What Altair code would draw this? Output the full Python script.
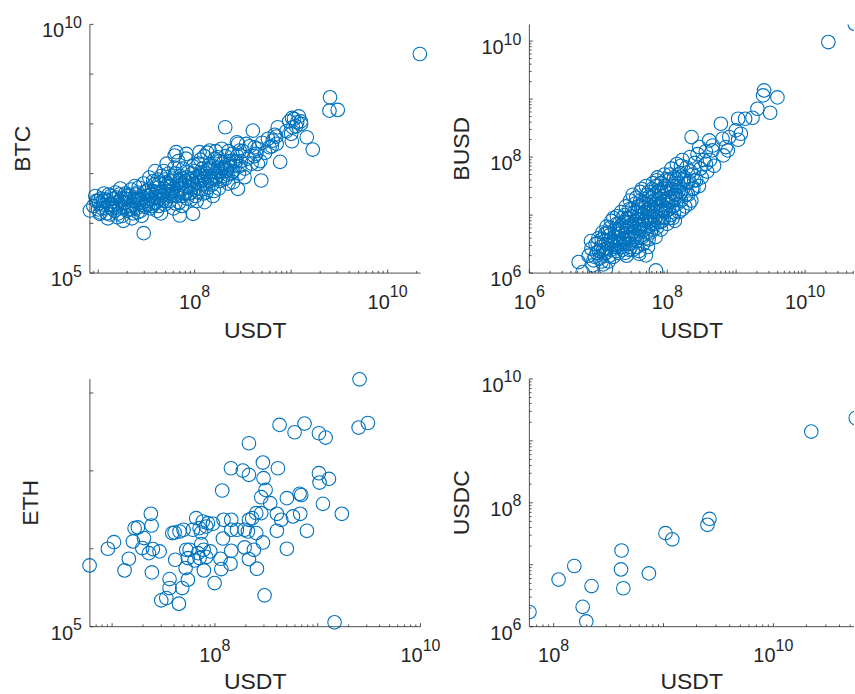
import math
import altair as alt
import pandas as pd

BLUE = "#0072BD"
INK = "#262626"
FONT = "Liberation Sans"

# ---------------- data: (log10 USDT volume, log10 other volume)
btc_points_log = [
    (10.334, 9.404), (9.403, 8.534), (9.397, 8.266), (9.483, 8.28), (9.01, 8.12), (9.062, 8.032),
    (9.017, 7.932), (9.103, 7.999), (9.162, 7.731), (9.224, 7.483), (9.007, 7.651), (8.886, 7.236),
    (8.845, 7.744), (8.81, 7.664), (8.862, 7.932), (8.776, 7.53), (8.69, 6.861), (8.603, 7.865),
    (8.534, 7.597), (8.621, 7.53), (8.638, 7.396), (8.655, 7.195), (8.517, 6.928), (8.448, 6.693),
    (8.397, 6.827), (8.438, 7.63), (8.466, 7.463), (8.317, 7.932), (8.362, 7.195), (8.241, 7.329),
    (8.328, 7.062), (8.397, 7.262), (8.103, 6.426), (7.983, 6.191), (7.845, 6.158), (7.472, 5.803),
    (6.914, 6.258), (7.0, 6.459), (7.017, 6.191), (7.81, 7.43), (8.05, 7.43), (8.155, 7.463),
    (7.914, 7.396), (7.793, 7.363),
    (6.95, 6.35), (6.98, 6.45), (7.0, 6.28), (7.03, 6.5), (7.05, 6.38), (7.02, 6.22), (7.06, 6.6),
    (7.08, 6.3), (7.1, 6.45), (7.12, 6.18), (7.13, 6.55), (7.15, 6.37), (7.17, 6.25), (7.18, 6.62),
    (7.2, 6.42), (7.1, 6.1), (7.16, 6.5),
    (7.22, 6.3), (7.24, 6.5), (7.25, 6.15), (7.27, 6.4), (7.28, 6.6), (7.3, 6.25), (7.31, 6.48),
    (7.33, 6.35), (7.34, 6.68), (7.26, 6.05), (7.29, 6.55), (7.23, 6.7),
    (7.36, 6.2), (7.37, 6.45), (7.39, 6.58), (7.4, 6.3), (7.42, 6.72), (7.43, 6.4), (7.45, 6.15),
    (7.46, 6.52), (7.48, 6.62), (7.49, 6.33), (7.38, 6.75), (7.44, 6.25), (7.47, 6.8),
    (7.51, 6.45), (7.52, 6.68), (7.54, 6.3), (7.55, 6.58), (7.57, 6.85), (7.58, 6.4), (7.6, 6.52),
    (7.61, 6.25), (7.62, 6.72), (7.64, 6.6), (7.65, 6.95), (7.53, 6.92), (7.59, 7.05), (7.63, 6.35),
    (7.66, 6.48), (7.68, 6.7), (7.69, 6.38), (7.7, 6.82), (7.72, 6.58), (7.73, 7.0), (7.74, 6.45),
    (7.76, 6.65), (7.77, 6.9), (7.78, 6.3), (7.79, 7.12), (7.71, 7.2), (7.75, 6.75),
    (7.81, 6.55), (7.82, 6.8), (7.84, 6.42), (7.85, 6.95), (7.86, 6.68), (7.88, 7.1), (7.89, 6.6),
    (7.9, 6.85), (7.92, 6.5), (7.93, 7.02), (7.94, 6.72), (7.83, 7.25), (7.87, 6.35), (7.91, 7.3),
    (7.96, 6.62), (7.97, 6.9), (7.99, 6.78), (8.0, 7.05), (8.01, 6.55), (8.03, 6.95), (8.04, 7.2),
    (8.05, 6.7), (8.07, 6.85), (8.08, 7.1), (8.09, 6.6), (8.1, 7.35), (7.98, 7.15), (8.02, 6.45),
    (8.11, 6.8), (8.12, 7.0), (8.14, 6.72), (8.15, 7.18), (8.17, 6.9), (8.18, 7.05), (8.2, 6.65),
    (8.21, 7.3), (8.23, 6.95), (8.24, 7.12), (8.13, 7.42), (8.19, 6.55), (8.22, 7.45),
    (8.26, 6.85), (8.27, 7.05), (8.29, 7.2), (8.3, 6.95), (8.32, 7.35), (8.33, 7.1), (8.35, 6.8),
    (8.36, 7.25), (8.38, 7.0), (8.39, 7.4), (8.28, 7.5),
    (8.42, 7.15), (8.44, 7.35), (8.46, 7.0), (8.48, 7.25), (8.5, 7.45), (8.52, 7.1), (8.55, 7.3),
    (8.57, 7.55), (8.59, 7.2), (8.45, 7.6),
    (8.62, 7.35), (8.65, 7.5), (8.68, 7.25), (8.7, 7.62), (8.73, 7.42), (8.76, 7.7), (8.8, 7.55),
    (8.83, 7.78), (8.85, 7.6),
    (8.95, 7.85), (8.98, 8.05), (9.0, 7.8), (9.03, 8.1), (9.05, 7.95), (9.08, 8.15), (9.1, 8.05),
    (6.97, 6.55), (7.01, 6.4), (7.04, 6.3), (7.07, 6.48), (7.09, 6.2), (7.11, 6.58), (7.14, 6.3),
    (7.19, 6.52), (7.21, 6.2), (7.23, 6.45), (7.26, 6.32), (7.28, 6.5), (7.32, 6.58), (7.35, 6.28),
    (7.38, 6.52), (7.41, 6.62), (7.44, 6.47), (7.47, 6.36), (7.5, 6.55), (7.35, 6.1), (7.2, 6.12),
    (7.41, 6.22),
    (7.52, 6.38), (7.55, 6.48), (7.57, 6.65), (7.6, 6.42), (7.62, 6.88), (7.64, 6.5), (7.67, 6.62),
    (7.7, 6.45), (7.72, 6.78), (7.75, 6.55), (7.78, 6.7), (7.8, 6.4), (7.82, 6.62), (7.84, 6.85),
    (7.87, 6.55), (7.9, 6.75), (7.92, 6.92), (7.95, 6.6), (7.98, 6.85), (7.65, 6.2), (7.58, 6.78),
    (7.68, 7.05), (7.8, 7.0), (7.96, 6.48),
    (8.02, 6.92), (8.04, 6.62), (8.06, 6.98), (8.09, 6.78), (8.12, 6.62), (8.14, 6.95), (8.16, 7.1),
    (8.18, 6.78), (8.21, 6.9), (8.24, 7.02), (8.26, 7.25), (8.29, 6.88), (8.31, 7.12), (8.34, 6.98),
    (8.37, 7.15), (8.4, 7.05), (8.43, 7.25), (8.47, 7.15), (8.06, 7.28), (8.25, 6.7), (8.35, 7.45),
    (7.05, 6.45), (7.12, 6.38), (7.18, 6.32), (7.22, 6.58), (7.28, 6.42), (7.32, 6.28), (7.37, 6.38),
    (7.42, 6.5), (7.46, 6.42), (7.5, 6.65), (7.53, 6.5), (7.56, 6.35), (7.6, 6.62), (7.63, 6.8),
    (7.66, 6.55), (7.69, 6.88), (7.71, 6.65), (7.74, 6.85), (7.77, 6.6), (7.79, 6.95), (7.83, 6.7),
    (7.86, 6.78), (7.88, 6.9), (7.91, 6.62), (7.94, 6.88), (7.97, 7.0), (8.0, 6.68), (8.03, 6.82),
    (8.07, 7.02), (8.1, 6.9), (8.13, 7.08), (8.16, 6.85), (8.19, 7.15), (8.22, 7.02), (8.28, 7.1),
    (8.32, 6.9),
]

busd_points_log = [
    (10.338, 9.983), (10.72, 10.30), (9.406, 9.149), (9.391, 9.063), (9.599, 9.029), (9.493, 8.764),
    (9.309, 8.833), (9.237, 8.678), (9.13, 8.661), (9.029, 8.661), (8.995, 8.46), (9.068, 8.402),
    (9.029, 8.299), (8.899, 8.345), (8.802, 8.316), (8.778, 8.575), (8.85, 8.172), (8.353, 8.345),
    (8.657, 8.115), (8.816, 8.029), (8.879, 8.115), (8.56, 7.885), (8.464, 8.172), (8.609, 8.287),
    (7.836, 6.046), (6.773, 6.017), (6.715, 6.19), (6.918, 6.132), (7.111, 6.075), (6.894, 6.552),
    (7.594, 6.333), (7.69, 6.305),
    (6.86, 6.3), (6.9, 6.42), (6.93, 6.22), (6.96, 6.5), (6.98, 6.35), (7.0, 6.6),
    (7.02, 6.25), (7.04, 6.45), (7.06, 6.7), (7.07, 6.15), (7.09, 6.55), (7.11, 6.35), (7.12, 6.8),
    (7.14, 6.5), (7.15, 6.2),
    (7.16, 6.65), (7.18, 6.4), (7.19, 6.9), (7.21, 6.55), (7.22, 6.28), (7.24, 6.75), (7.25, 6.45),
    (7.27, 6.98), (7.28, 6.62), (7.29, 6.35), (7.3, 6.85),
    (7.31, 6.5), (7.33, 7.05), (7.34, 6.7), (7.35, 6.4), (7.37, 6.88), (7.38, 6.58), (7.4, 7.15),
    (7.41, 6.3), (7.42, 6.78), (7.44, 6.95), (7.45, 6.5),
    (7.46, 7.25), (7.47, 6.65), (7.49, 6.85), (7.5, 6.4), (7.52, 7.05), (7.53, 6.72), (7.55, 7.3),
    (7.56, 6.55), (7.57, 6.92), (7.58, 7.15), (7.6, 6.62), (7.59, 6.38),
    (7.61, 7.4), (7.62, 6.8), (7.64, 7.02), (7.65, 6.5), (7.66, 7.22), (7.68, 6.9), (7.69, 7.5),
    (7.7, 6.7), (7.72, 7.1), (7.73, 6.58), (7.74, 7.32), (7.75, 6.95),
    (7.77, 7.15), (7.78, 6.75), (7.79, 7.55), (7.8, 6.98), (7.82, 7.35), (7.83, 6.62), (7.84, 7.2),
    (7.86, 7.65), (7.87, 6.88), (7.88, 7.42), (7.9, 7.08),
    (7.91, 6.75), (7.92, 7.55), (7.94, 7.25), (7.95, 6.95), (7.96, 7.7), (7.98, 7.12), (7.99, 7.4),
    (8.0, 6.85), (8.02, 7.6), (8.03, 7.3), (8.05, 7.0),
    (8.06, 7.8), (8.07, 7.45), (8.09, 7.15), (8.1, 7.65), (8.11, 6.9), (8.13, 7.35), (8.14, 7.88),
    (8.16, 7.55), (8.17, 7.05), (8.19, 7.72), (8.2, 7.25),
    (8.22, 7.95), (8.23, 7.45), (8.25, 7.65), (8.26, 7.15), (8.28, 7.82), (8.3, 7.35), (8.31, 7.58),
    (8.33, 8.0), (8.35, 7.25),
    (8.37, 7.7), (8.38, 7.45), (8.4, 7.9), (8.42, 7.6), (8.44, 8.05), (8.46, 7.5), (8.48, 7.8),
    (8.5, 7.65),
    (8.53, 7.95), (8.56, 8.1), (8.58, 7.75), (8.62, 7.95), (8.66, 8.2), (8.68, 7.85),
    (6.95, 6.28), (6.99, 6.52), (7.01, 6.38), (7.05, 6.58), (7.08, 6.32), (7.1, 6.68), (7.13, 6.42),
    (7.16, 6.3), (7.17, 6.78), (7.2, 6.48), (7.23, 6.62), (7.26, 6.38), (7.27, 6.85), (7.29, 6.52),
    (7.05, 6.2), (7.22, 6.95),
    (7.32, 6.75), (7.34, 6.45), (7.36, 6.6), (7.38, 7.0), (7.39, 6.35), (7.41, 6.88), (7.43, 6.62),
    (7.45, 7.1), (7.47, 6.45), (7.48, 6.98), (7.51, 6.58), (7.52, 6.8), (7.54, 7.2), (7.56, 6.45),
    (7.58, 6.98), (7.6, 6.75), (7.62, 7.15), (7.64, 6.62), (7.5, 7.35), (7.4, 6.5), (7.63, 7.45),
    (7.66, 6.85), (7.67, 7.05), (7.7, 6.6), (7.71, 7.35), (7.73, 6.88), (7.75, 7.2), (7.76, 6.7),
    (7.78, 7.45), (7.8, 6.85), (7.81, 7.25), (7.83, 7.05), (7.85, 6.78), (7.86, 7.4), (7.88, 6.95),
    (7.9, 7.55), (7.92, 7.18), (7.93, 6.9), (7.95, 7.45), (7.97, 7.05), (7.99, 7.62), (7.72, 6.45),
    (7.85, 7.6),
    (8.01, 7.2), (8.03, 6.95), (8.05, 7.45), (8.08, 7.3), (8.1, 7.05), (8.12, 7.55), (8.15, 7.2),
    (8.17, 7.7), (8.2, 7.4), (8.22, 7.1), (8.24, 7.6), (8.27, 7.35), (8.29, 7.55), (8.32, 7.2),
    (8.34, 7.75), (8.36, 7.45), (8.39, 7.6), (8.2, 7.85), (8.08, 6.95),
    (7.25, 6.55), (7.3, 6.68), (7.33, 6.82), (7.36, 6.52), (7.4, 6.72), (7.42, 6.95), (7.44, 6.58),
    (7.46, 6.8), (7.49, 7.1), (7.51, 6.7), (7.53, 6.9), (7.55, 6.65), (7.57, 7.05), (7.59, 6.85),
    (7.61, 7.25), (7.63, 6.92), (7.65, 7.12), (7.67, 6.75), (7.69, 7.2), (7.71, 6.95), (7.73, 7.4),
    (7.74, 7.05), (7.76, 6.85), (7.78, 7.3), (7.8, 7.1), (7.82, 6.92), (7.84, 7.5), (7.86, 7.15),
    (7.88, 7.28), (7.9, 6.88), (7.92, 7.38), (7.94, 7.08), (7.96, 7.5), (7.98, 7.25), (8.0, 7.45),
    (8.02, 7.1), (8.04, 7.7), (8.06, 7.25), (8.09, 7.5), (8.11, 7.35), (8.13, 7.62), (8.16, 7.4),
    (8.18, 7.5), (7.18, 6.58), (7.14, 6.7), (7.11, 6.5), (7.07, 6.4), (7.28, 6.75), (7.35, 6.95),
    (7.45, 6.4),
]

eth_points_log = [
    (9.407, 8.175), (9.398, 7.556), (9.488, 7.615), (8.629, 7.59), (8.872, 7.607), (8.775, 7.496),
    (9.012, 7.483), (9.077, 7.427), (8.331, 7.355), (8.467, 7.107), (8.156, 7.034), (8.272, 7.004),
    (8.331, 6.949), (8.613, 7.034), (8.473, 6.906), (9.012, 6.97), (9.018, 6.85), (9.109, 6.897),
    (8.493, 6.756), (8.071, 6.748), (8.451, 6.662), (8.7, 6.65), (8.824, 6.705), (8.84, 6.69),
    (8.538, 6.585), (9.051, 6.577), (9.235, 6.449), (8.83, 6.449), (8.759, 6.415), (8.603, 6.449),
    (8.645, 6.372), (8.363, 6.393), (8.402, 6.457), (8.451, 6.457), (8.331, 6.372), (8.289, 6.244),
    (8.402, 6.201), (8.467, 6.081), (8.603, 6.231), (8.895, 6.231), (8.7, 6.0), (8.289, 6.017),
    (8.379, 5.987), (8.331, 5.868), (8.409, 5.744), (8.159, 6.372), (8.084, 6.372), (8.159, 6.244),
    (8.078, 6.132), (8.159, 5.974), (8.152, 5.808), (8.055, 5.872), (8.062, 5.739), (7.997, 5.56),
    (7.955, 5.966), (7.916, 5.893), (7.893, 5.722), (7.981, 6.321), (7.932, 6.329), (7.883, 6.35),
    (7.818, 6.393), (7.851, 6.265), (7.867, 6.209), (7.867, 6.06), (7.835, 5.944), (7.802, 5.85),
    (7.754, 5.987), (7.737, 5.88), (7.715, 5.752), (7.737, 5.603), (7.682, 5.496), (7.656, 6.222),
    (7.695, 6.244), (7.608, 6.209), (7.585, 6.201), (7.614, 5.859), (7.559, 5.611), (7.559, 5.496),
    (7.527, 5.368), (7.478, 5.338), (7.65, 5.295), (7.462, 5.966), (7.387, 5.697), (7.397, 5.996),
    (7.358, 5.944), (7.293, 6.009), (7.31, 6.137), (7.384, 6.299), (7.377, 6.449), (7.251, 6.274),
    (7.219, 6.265), (7.202, 6.094), (7.163, 5.872), (7.121, 5.722), (7.018, 6.085), (6.959, 6.0),
    (6.781, 5.786), (9.164, 5.056), (8.483, 5.402), (7.916, 6.286), (7.786, 6.244), (7.721, 5.987),
    (8.214, 6.244), (8.321, 6.222), (7.89, 5.987), (7.851, 5.88),
]

usdc_points_log = [
    (7.78, 6.235), (8.045, 6.76), (8.188, 6.98), (8.264, 6.32), (8.297, 6.085), (8.345, 6.655),
    (8.613, 6.924), (8.618, 7.23), (8.634, 6.62), (8.867, 6.86), (9.018, 7.51), (9.08, 7.41),
    (9.40, 7.645), (9.418, 7.74), (10.345, 9.15), (10.75, 9.37),
]

# ---------------- helpers
W10 = 2 * 0.556 * 20   # width of "10" at 20 px
WD = 0.556 * 16        # width of one exponent digit at 16 px
MAJ, MIN = 3.5, 2.2    # inward tick lengths


def tick_values(lo, hi, minor):
    majors, minors = [], []
    for d in range(math.floor(lo), math.ceil(hi) + 1):
        if lo - 1e-9 <= d <= hi + 1e-9:
            majors.append(10.0 ** d)
        if minor:
            for m in range(2, 10):
                if lo <= math.log10(m) + d <= hi:
                    minors.append(m * 10.0 ** d)
    return majors, minors


def panel(points, xtitle, ytitle, xdom, ydom, w, h, xlabels, ylabels,
          xminor, yminor, clip, xtitle_dy, ytitle_x, anchor=False):
    xs = alt.Scale(type="log", domain=[10 ** xdom[0], 10 ** xdom[1]], nice=False)
    ys = alt.Scale(type="log", domain=[10 ** ydom[0], 10 ** ydom[1]], nice=False)
    df = pd.DataFrame({"x": [10 ** p[0] for p in points], "y": [10 ** p[1] for p in points]})
    one = pd.DataFrame({"k": [0]})
    layers = []
    layers.append(
        alt.Chart(df).mark_point(shape="circle", filled=False, size=185, strokeWidth=1.1,
                                 color=BLUE, opacity=1, clip=clip)
        .encode(x=alt.X("x:Q", scale=xs, axis=None), y=alt.Y("y:Q", scale=ys, axis=None))
    )
    layers.append(alt.Chart(one).mark_rule(color=INK, strokeWidth=0.8)
                  .encode(x=alt.value(0), x2=alt.value(w), y=alt.value(h)))
    layers.append(alt.Chart(one).mark_rule(color=INK, strokeWidth=0.8)
                  .encode(x=alt.value(0), y=alt.value(0), y2=alt.value(h)))
    xmaj, xmin = tick_values(xdom[0], xdom[1], xminor)
    ymaj, ymin = tick_values(ydom[0], ydom[1], yminor)
    for vals, ln in ((xmaj, MAJ), (xmin, MIN)):
        if vals:
            layers.append(alt.Chart(pd.DataFrame({"v": vals})).mark_rule(color=INK, strokeWidth=0.8)
                          .encode(x=alt.X("v:Q", scale=xs, axis=None),
                                  y=alt.value(h), y2=alt.value(h - ln)))
    for vals, ln in ((ymaj, MAJ), (ymin, MIN)):
        if vals:
            layers.append(alt.Chart(pd.DataFrame({"v": vals})).mark_rule(color=INK, strokeWidth=0.8)
                          .encode(y=alt.Y("v:Q", scale=ys, axis=None),
                                  x=alt.value(0), x2=alt.value(ln)))
    for nd in (1, 2):
        ex = [e for e in xlabels if len(str(e)) == nd]
        if ex:
            d = pd.DataFrame({"v": [10.0 ** e for e in ex], "e": [str(e) for e in ex]})
            shift = (W10 - nd * WD) / 2
            layers.append(alt.Chart(d).mark_text(align="right", baseline="alphabetic", font=FONT,
                                                 fontSize=20, color=INK, dx=shift)
                          .encode(x=alt.X("v:Q", scale=xs, axis=None), y=alt.value(h + 35.5),
                                  text=alt.value("10")))
            layers.append(alt.Chart(d).mark_text(align="left", baseline="alphabetic", font=FONT,
                                                 fontSize=16, color=INK, dx=shift)
                          .encode(x=alt.X("v:Q", scale=xs, axis=None), y=alt.value(h + 24),
                                  text="e:N"))
        ey = [e for e in ylabels if len(str(e)) == nd]
        if ey:
            d = pd.DataFrame({"v": [10.0 ** e for e in ey], "e": [str(e) for e in ey]})
            layers.append(alt.Chart(d).mark_text(align="right", baseline="alphabetic", font=FONT,
                                                 fontSize=20, color=INK, dy=13)
                          .encode(y=alt.Y("v:Q", scale=ys, axis=None), x=alt.value(-8 - nd * WD),
                                  text=alt.value("10")))
            layers.append(alt.Chart(d).mark_text(align="right", baseline="alphabetic", font=FONT,
                                                 fontSize=16, color=INK, dy=3.5)
                          .encode(y=alt.Y("v:Q", scale=ys, axis=None), x=alt.value(-8),
                                  text="e:N"))
    layers.append(alt.Chart(pd.DataFrame({"t": [xtitle]}))
                  .mark_text(align="center", baseline="alphabetic", font=FONT, fontSize=23, color=INK)
                  .encode(x=alt.value(w / 2), y=alt.value(h + xtitle_dy), text="t:N"))
    layers.append(alt.Chart(pd.DataFrame({"t": [ytitle]}))
                  .mark_text(align="center", baseline="alphabetic", font=FONT, fontSize=23,
                             color=INK, angle=270)
                  .encode(x=alt.value(ytitle_x), y=alt.value(h / 2), text="t:N"))
    if anchor:
        layers.append(alt.Chart(one).mark_rule(color="white", strokeWidth=1)
                      .encode(x=alt.value(-89.5), x2=alt.value(-88.5), y=alt.value(-23.5)))
    return alt.layer(*layers).properties(width=w, height=h)


tl = panel(btc_points_log, "USDT", "BTC", (6.914, 10.341), (5.0, 10.0), 331, 249,
           [8, 10], [5, 10], True, False, False, 64.5, -60, anchor=True)
tr = panel(busd_points_log, "USDT", "BUSD", (6.0, 10.71), (6.0, 10.288), 325, 249,
           [6, 8, 10], [6, 8, 10], True, True, True, 64.5, -60)
bl = panel(eth_points_log, "USDT", "ETH", (6.784, 10.0), (5.0, 8.18), 331, 248,
           [8, 10], [5], True, False, False, 62.5, -52)
br = panel(usdc_points_log, "USDT", "USDC", (7.779, 10.734), (6.0, 10.0), 325, 248,
           [8, 10], [6, 8, 10], True, True, True, 62.5, -60.5)

chart = (
    alt.concat(tl, tr, bl, br, columns=2, spacing={"row": 106, "column": 109}, bounds="flush")
    .properties(padding=0, background="white")
    .configure_view(stroke=None)
)

chart.save("out.html", embed_options={"renderer": "svg", "actions": False})
